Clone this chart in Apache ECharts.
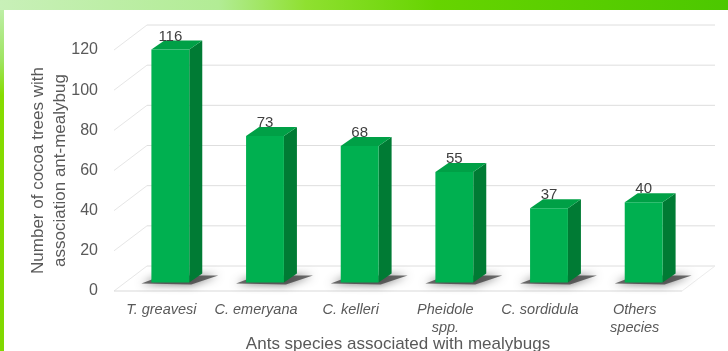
<!DOCTYPE html>
<html>
<head>
<meta charset="utf-8">
<script src="https://cdn.jsdelivr.net/npm/echarts@6/dist/echarts.min.js"></script>
<style>
html,body{margin:0;padding:0;background:#fff;}
#chart{width:728px;height:351px;}
</style>
</head>
<body>
<div id="chart"></div>
<script>
const categories = ['T. greavesi', 'C. emeryana', 'C. kelleri', 'Pheidole\nspp.', 'C. sordidula', 'Others\nspecies'];
const values = [116, 73, 68, 55, 37, 40];
const yTicks = [0, 20, 40, 60, 80, 100, 120];
const yName = 'Number of cocoa trees with\nassociation ant-mealybug';
const xName = 'Ants species associated with mealybugs';

const DX = 33, DY = -25;      // wall depth
const OX = 9, OY = -8.5;      // bar front-face offset into depth
const BDX = 13, BDY = -9;     // bar depth

const chart = echarts.init(document.getElementById('chart'), null, {renderer: 'canvas'});

function wallItem(params, api) {
  const t = api.value(1);
  const p = api.coord([0, t]);
  const band = api.size([1, 0])[0];
  const left = p[0] - band / 2;
  const right = api.coord([categories.length - 1, t])[0] + band / 2;
  const y = p[1];
  const children = [
    {type: 'line', shape: {x1: left + DX, y1: y + DY, x2: right + DX, y2: y + DY}, style: {stroke: '#dedede', lineWidth: 1}},
    {type: 'line', shape: {x1: left, y1: y, x2: left + DX, y2: y + DY}, style: {stroke: '#e6e6e6', lineWidth: 1}}
  ];
  if (t === 0) {
    children.push({type: 'line', shape: {x1: left, y1: y, x2: right, y2: y}, style: {stroke: '#d9d9d9', lineWidth: 1}});
    children.push({type: 'line', shape: {x1: right, y1: y, x2: right + DX, y2: y + DY}, style: {stroke: '#ececec', lineWidth: 1}});
  }
  return {type: 'group', children: children};
}

function barItem(params, api) {
  const i = api.value(0), v = api.value(1);
  const base = api.coord([i, 0]);
  const top = api.coord([i, v]);
  const band = api.size([1, 0])[0];
  const w = band * 0.4;
  const L = base[0] + OX - w / 2, R = L + w;
  const B = base[1] + OY, T = top[1] + OY;
  return {
    type: 'group',
    children: [
      {type: 'polygon', shape: {points: [[L - 10, B + 1], [R + 2, B + 2], [R + BDX + 16, B + BDY + 2], [L + BDX - 2, B + BDY + 2]]},
        style: {fill: 'rgba(50,50,50,0.7)', shadowBlur: 8, shadowColor: 'rgba(0,0,0,0.8)'}},
      {type: 'polygon', shape: {points: [[R, T], [R + BDX, T + BDY], [R + BDX, B + BDY], [R, B]]}, style: {fill: '#007b34'}},
      {type: 'polygon', shape: {points: [[L, T], [L + BDX, T + BDY], [R + BDX, T + BDY], [R, T]]}, style: {fill: '#00a046'}},
      {type: 'rect', shape: {x: L, y: T, width: w, height: B - T}, style: {fill: '#00b050'}},
      {type: 'text', x: L + w / 2, y: T - 13, style: {text: String(v), fill: '#404040', font: '15px "Liberation Sans", Arial, sans-serif', align: 'center', verticalAlign: 'middle'}}
    ]
  };
}

const option = {
  animation: false,
  backgroundColor: '#ffffff',
  graphic: [
    {type: 'rect', shape: {x: 0, y: 0, width: 728, height: 10}, z: -10,
      style: {fill: new echarts.graphic.LinearGradient(0, 0, 1, 0, [
        {offset: 0, color: '#c8f0b8'}, {offset: 0.3, color: '#b2ec95'}, {offset: 0.42, color: '#8fe030'},
        {offset: 0.6, color: '#66d400'}, {offset: 1, color: '#4cc800'}])}},
    {type: 'rect', shape: {x: 0, y: 10, width: 4, height: 341}, z: -10,
      style: {fill: new echarts.graphic.LinearGradient(0, 0, 0, 1, [
        {offset: 0, color: '#bdeea6'}, {offset: 0.15, color: '#9ee460'}, {offset: 0.25, color: '#86dc00'}, {offset: 1, color: '#80d800'}])}}
  ],
  grid: {left: 114, right: 46, top: 50, bottom: 60, containLabel: false, outerBoundsMode: 'none'},
  xAxis: {
    type: 'category', data: categories,
    axisLine: {show: false}, axisTick: {show: false},
    axisLabel: {interval: 0, fontStyle: 'italic', fontSize: 14.5, color: '#595959', margin: 10, lineHeight: 18, fontFamily: 'Liberation Sans'},
    name: xName, nameLocation: 'middle', nameGap: 45, nameMoveOverlap: false,
    nameTextStyle: {fontSize: 17, color: '#595959', fontFamily: 'Liberation Sans'}
  },
  yAxis: {
    type: 'value', min: 0, max: 120, interval: 20,
    axisLine: {show: false}, axisTick: {show: false}, splitLine: {show: false},
    axisLabel: {fontSize: 16, color: '#595959', margin: 16, fontFamily: 'Liberation Sans'},
    name: yName, nameLocation: 'middle', nameRotate: 90, nameGap: 43, nameMoveOverlap: false,
    nameTextStyle: {fontSize: 17, lineHeight: 22, color: '#595959', fontFamily: 'Liberation Sans'}
  },
  series: [
    {type: 'custom', renderItem: wallItem, data: yTicks.map(t => [0, t]), encode: {x: 0, y: 1}, clip: false, silent: true, z: 1},
    {type: 'custom', renderItem: barItem, data: values.map((v, i) => [i, v]), encode: {x: 0, y: 1}, clip: false, z: 2}
  ]
};
chart.setOption(option);
</script>
</body>
</html>
